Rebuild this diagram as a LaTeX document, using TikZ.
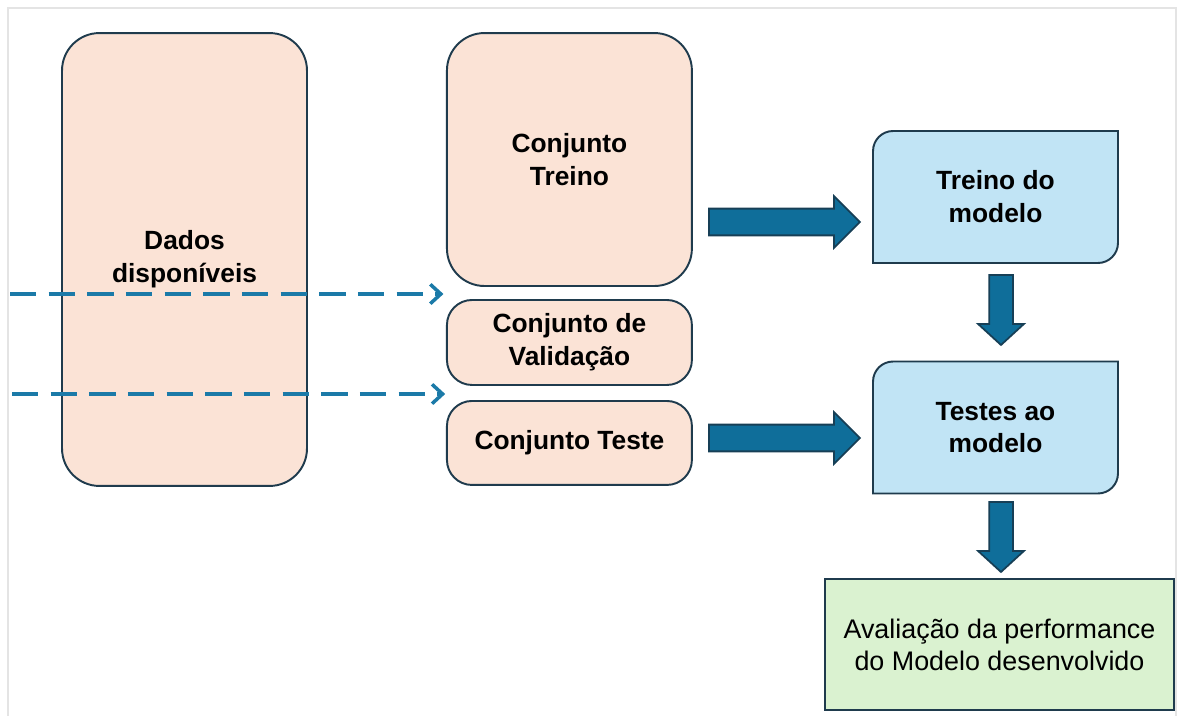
\documentclass[tikz,border=0pt]{standalone}
\usepackage{fontspec}
\setmainfont{Liberation Sans}
\usetikzlibrary{positioning,shapes.arrows,arrows.meta,backgrounds}

\definecolor{peach}{HTML}{FBE3D6}
\definecolor{edge}{HTML}{1F3B4D}
\definecolor{skyfill}{HTML}{C1E4F5}
\definecolor{mintfill}{HTML}{DAF2D0}
\definecolor{flow}{HTML}{0F6E9A}
\definecolor{flowedge}{HTML}{173F56}
\definecolor{dashblue}{HTML}{1B7AA8}
\definecolor{framegray}{HTML}{E4E4E4}

\tikzset{
  label font/.style={font=\bfseries\fontsize{15}{18.7}\selectfont},
  databox/.style={draw=edge, fill=peach, line width=1.1pt, rounded corners=0.75cm,
    align=center, minimum width=4.9cm, outer sep=0pt, label font},
  splitbox/.style={databox, rounded corners=0.5cm},
  modelbox/.style={align=center, minimum width=4.9cm, minimum height=2.64cm,
    outer sep=0pt, label font},
  resultbox/.style={draw=edge, fill=mintfill, line width=1.1pt, align=center,
    minimum width=6.98cm, minimum height=2.62cm, outer sep=0pt,
    font=\fontsize{15.3}{18.2}\selectfont},
  flowarrow/.style={single arrow, draw=flowedge, fill=flow, line width=1pt,
    inner xsep=0pt, inner ysep=0.25cm, outer sep=0pt, minimum height=3.02cm,
    single arrow head extend=0.25cm, single arrow tip angle=90},
  downarrow/.style={flowarrow, minimum height=1.4cm, inner xsep=0.22cm, inner ysep=0pt,
    single arrow head extend=0.22cm, single arrow tip angle=95,
    shape border rotate=270},
  dashflow/.style={draw=dashblue, line width=2pt, dash pattern=on 15pt off 7pt,
    -{Straight Barb[length=6pt,width=11pt]}}
}

\begin{document}
\begin{tikzpicture}[x=0.02cm, y=-0.02cm]
  \useasboundingbox (0,0) rectangle (1178,716);
  \draw[framegray, line width=1.6pt] (8,716) -- (8,8) -- (1176,8) -- (1176,716);

  % data and its three splits
  \node[databox, minimum height=9.06cm] (dados) at (184.5,259.5) {Dados\\disponíveis};
  \node[databox, minimum height=5.06cm, right=2.8cm of dados.north east, anchor=north west] (ct) {Conjunto\\Treino};
  \node[splitbox, minimum height=1.7cm, below=0.28cm of ct] (cv) {Conjunto de\\Validação};
  \node[splitbox, minimum height=1.68cm, below=0.32cm of cv] (cte) {Conjunto Teste};

  % model steps
  \node[modelbox] (tm) at (995.5,197) {Treino do\\modelo};
  \node[modelbox] (tt) at (995.5,427.5) {Testes ao\\modelo};
  \begin{scope}[on background layer]
    \foreach \n in {tm,tt}
      \filldraw[draw=edge, fill=skyfill, line width=1.1pt]
        (\n.south west) -- ([yshift=-0.4cm]\n.north west)
        arc[start angle=180, end angle=90, radius=0.4cm]
        -- (\n.north east) -- ([yshift=0.4cm]\n.south east)
        arc[start angle=0, end angle=-90, radius=0.4cm] -- cycle;
  \end{scope}
  \node[resultbox] (av) at (999.5,644.5) {Avaliação da performance\\do Modelo desenvolvido};

  % block arrows
  \node[flowarrow, anchor=tail] (a1) at (709,222) {};
  \node[flowarrow, anchor=tail] (a2) at (709,438) {};
  \node[downarrow, anchor=tail] (a3) at (1001,275) {};
  \node[downarrow, anchor=tail] (a4) at (1001,502) {};

  % dashed feeds
  \coordinate (d1) at (10,294);
  \coordinate (d2) at (12,394);
  \draw[dashflow] (d1) -- ([xshift=-2pt]ct.west |- d1);
  \draw[dashflow] (d2) -- ([xshift=-1pt]cte.west |- d2);
\end{tikzpicture}
\end{document}
